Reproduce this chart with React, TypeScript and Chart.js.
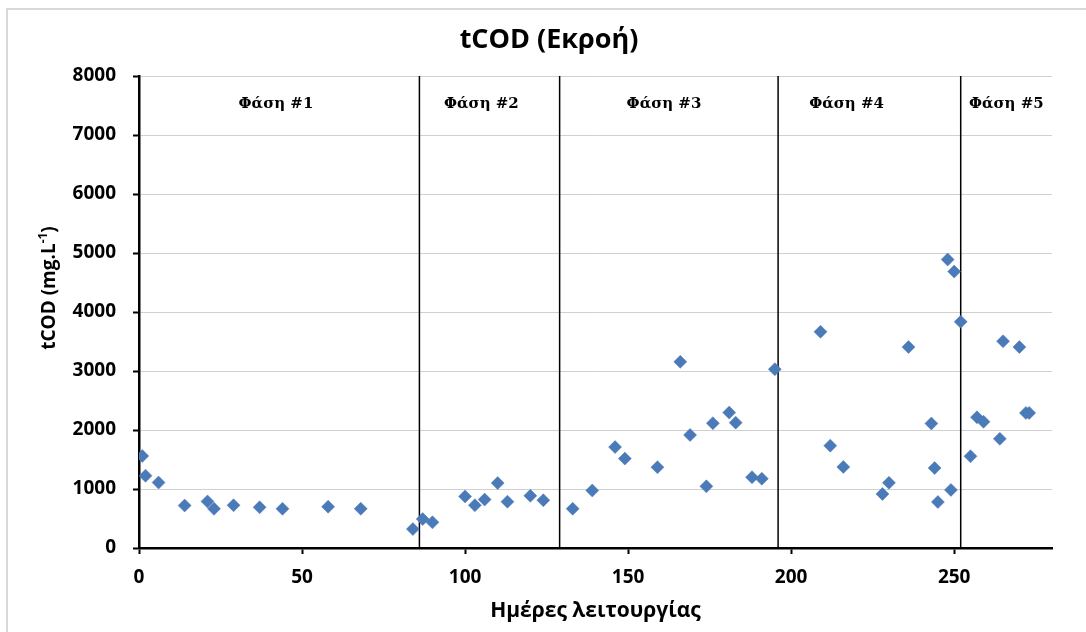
import React, { useEffect, useRef } from "react";
import { Chart, registerables } from "chart.js";

Chart.register(...registerables);

// ---- data ----
const days = [
  1, 2, 6, 14, 21, 23, 29, 37, 44, 58, 68, 84, 87, 90,
  100, 103, 106, 110, 113, 120, 124,
  133, 139, 146, 149, 159, 166, 169, 174, 176, 181, 183, 188, 191, 195,
  209, 212, 216, 228, 230, 236, 243, 244, 245, 248, 249, 250,
  252, 255, 257, 259, 264, 265, 270, 272, 273,
];
const tcod = [
  1560, 1225, 1110, 720, 790, 665, 725, 690, 665, 700, 665, 320, 490, 435,
  875, 725, 820, 1100, 785, 885, 810,
  665, 975, 1710, 1515, 1370, 3155, 1915, 1045, 2115, 2295, 2125, 1200, 1175, 3030,
  3665, 1735, 1375, 915, 1105, 3405, 2110, 1355, 780, 4890, 985, 4685,
  3835, 1555, 2215, 2140, 1850, 3505, 3405, 2290, 2290,
];
const phaseBounds = [86, 129, 196, 252];
const phaseLabels = ["Φάση #1", "Φάση #2", "Φάση #3", "Φάση #4", "Φάση #5"];
const phaseLabelDays = [42, 105, 161, 217, 266];
const phaseLabelLevel = 7520;

const xMin = 0;
const xMax = 280;
const xStep = 50;
const yMin = 0;
const yMax = 8000;
const yStep = 1000;

const chartTitle = "tCOD (Εκροή)";
const xTitle = "Ημέρες λειτουργίας";
const yTitleMain = "tCOD (mg.L";
const yTitleSup = "-1";
const yTitleEnd = ")";

const FONT = "'Open Sans', 'Noto Sans', sans-serif";
const BLUE = "#4a7ab8";

const decor = {
  id: "decor",
  beforeDraw(chart: any) {
    const ctx = chart.ctx;
    ctx.save();
    ctx.fillStyle = "#ffffff";
    ctx.fillRect(0, 0, chart.width, chart.height);
    ctx.strokeStyle = "#d9d9d9";
    ctx.lineWidth = 2;
    ctx.strokeRect(7, 9, chart.width + 40, chart.height + 40);
    ctx.restore();
  },
  beforeDatasetsDraw(chart: any) {
    const ctx = chart.ctx;
    const xs = chart.scales.x;
    const ys = chart.scales.y;
    ctx.save();
    ctx.strokeStyle = "#000000";
    ctx.lineWidth = 1.5;
    const top = ys.getPixelForValue(yMax);
    const bottom = ys.getPixelForValue(yMin);
    phaseBounds.forEach((b) => {
      const x = xs.getPixelForValue(b);
      ctx.beginPath();
      ctx.moveTo(x, top);
      ctx.lineTo(x, bottom);
      ctx.stroke();
    });
    ctx.fillStyle = "#000000";
    ctx.font = "bold 15px 'DejaVu Serif', serif";
    ctx.textAlign = "center";
    ctx.textBaseline = "middle";
    phaseLabels.forEach((t, i) => {
      ctx.fillText(t, xs.getPixelForValue(phaseLabelDays[i]), ys.getPixelForValue(phaseLabelLevel));
    });
    ctx.restore();
  },
  afterDraw(chart: any) {
    const ctx = chart.ctx;
    const area = chart.chartArea;
    ctx.save();
    ctx.fillStyle = "#000000";
    ctx.textAlign = "center";
    ctx.textBaseline = "alphabetic";
    // chart title
    ctx.font = `bold 27px ${FONT}`;
    ctx.fillText(chartTitle, 549, 48);
    // x title
    ctx.font = `bold 21px ${FONT}`;
    ctx.fillText(xTitle, (area.left + area.right) / 2, 617);
    // y title (rotated, with superscript)
    ctx.translate(55, 288);
    ctx.rotate(-Math.PI / 2);
    const mainFont = `bold 19px ${FONT}`;
    const supFont = `bold 12px ${FONT}`;
    ctx.font = mainFont;
    const w1 = ctx.measureText(yTitleMain).width;
    const w3 = ctx.measureText(yTitleEnd).width;
    ctx.font = supFont;
    const w2 = ctx.measureText(yTitleSup).width;
    const total = w1 + w2 + w3;
    let x = -total / 2;
    ctx.textAlign = "left";
    ctx.font = mainFont;
    ctx.fillText(yTitleMain, x, 0);
    x += w1;
    ctx.font = supFont;
    ctx.fillText(yTitleSup, x, -8);
    x += w2;
    ctx.font = mainFont;
    ctx.fillText(yTitleEnd, x, 0);
    ctx.restore();
  },
};

export default function App() {
  const ref = useRef<HTMLCanvasElement | null>(null);
  useEffect(() => {
    if (!ref.current) return;
    const points = days.map((d, i) => ({ x: d, y: tcod[i] }));
    const tickFont = { family: FONT, weight: "bold" as const, size: 19 };
    const chart = new Chart(ref.current, {
      type: "scatter",
      data: {
        datasets: [
          {
            label: "tCOD",
            data: points,
            pointStyle: "rectRot",
            pointRadius: 6.5,
            pointBackgroundColor: BLUE,
            pointBorderColor: BLUE,
            pointBorderWidth: 0.5,
            showLine: false,
          },
        ],
      },
      options: {
        animation: false,
        responsive: false,
        devicePixelRatio: 1,
        layout: { padding: { left: 0, top: 76, right: 34, bottom: 0 } },
        plugins: {
          legend: { display: false },
          tooltip: { enabled: false },
          title: { display: false },
        },
        scales: {
          x: {
            type: "linear",
            min: xMin,
            max: xMax,
            position: "bottom",
            ticks: {
              stepSize: xStep,
              includeBounds: false,
              color: "#000000",
              font: tickFont,
              padding: 12,
              maxRotation: 0,
              callback: (v: any) => String(v),
            },
            grid: {
              drawOnChartArea: false,
              drawTicks: true,
              tickLength: 6,
              tickColor: "#000000",
              tickWidth: 2,
            },
            border: { display: true, color: "#000000", width: 2.5 },
            afterFit: (s: any) => {
              s.height = 84;
            },
          },
          y: {
            type: "linear",
            min: yMin,
            max: yMax,
            ticks: {
              stepSize: yStep,
              color: "#000000",
              font: tickFont,
              padding: 17,
              callback: (v: any) => String(v),
            },
            grid: {
              color: "#d0d0d0",
              lineWidth: 1,
              drawTicks: true,
              tickLength: 6,
              tickColor: "#000000",
              tickWidth: 2,
            },
            border: { display: true, color: "#000000", width: 2.5 },
            afterFit: (s: any) => {
              s.width = 139;
            },
          },
        },
      },
      plugins: [decor],
    });
    return () => chart.destroy();
  }, []);
  return (
    <div style={{ position: "fixed", left: 0, top: 0, width: 1086, height: 632, background: "#fff" }}>
      <canvas ref={ref} width={1086} height={632} style={{ display: "block" }} />
    </div>
  );
}
